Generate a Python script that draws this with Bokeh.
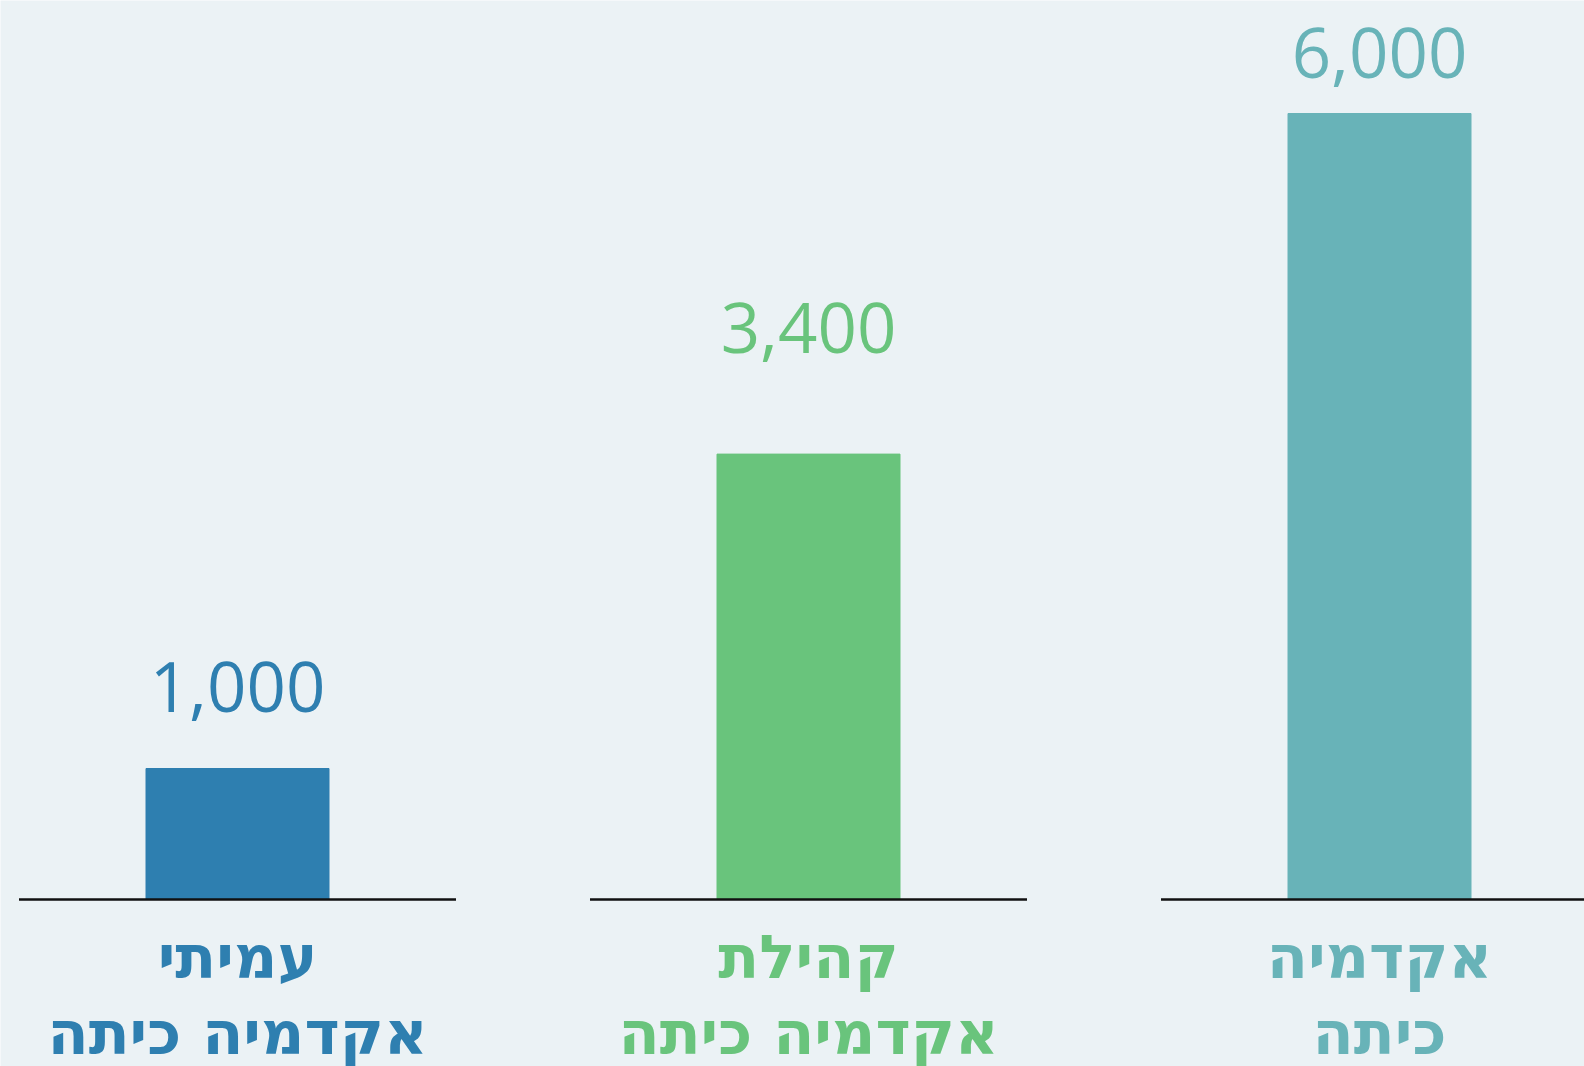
from bokeh.plotting import figure
from bokeh.models import ColumnDataSource, Range1d
from bokeh.core.properties import value
from bokeh.embed import file_html
from bokeh.resources import INLINE

# ---- data ----
categories = ["עמיתי\nאקדמיה כיתה", "קהילת\nאקדמיה כיתה", "אקדמיה\nכיתה"]
values = [1000, 3400, 6000]
value_labels = ["1,000", "3,400", "6,000"]
colors = ["#2E7FB0", "#69C47C", "#68B3B8"]

# ---- layout (pixels) ----
W, H = 1584, 1066
BG = "#EBF2F5"
baseline_px = 899          # distance of zero line from figure top
top_px = 113               # top of the tallest bar from figure top
unit = (baseline_px - top_px) / max(values)   # px per data unit
first_center_px, spacing_px = 237, 571
bar_w = 183 / spacing_px
seg_w = 437 / spacing_px
label_gap_px = [82, 126, 61]   # offset of value label anchor above bar top
cat_line1_px, cat_line2_px = 57, 133

xs = list(range(len(categories)))
p = figure(width=W, height=H, output_backend="svg", toolbar_location=None,
           x_range=Range1d(-first_center_px / spacing_px, (W - first_center_px) / spacing_px),
           y_range=Range1d(-(H - baseline_px) / unit, baseline_px / unit),
           min_border=0)
p.background_fill_color = BG
p.border_fill_color = BG
p.outline_line_color = None
p.axis.visible = False
p.grid.visible = False

src = ColumnDataSource(dict(
    x=xs, top=values, color=colors, lab=value_labels,
    lab_y=[v + g / unit for v, g in zip(values, label_gap_px)],
    line1=[c.split("\n")[0] for c in categories],
    line2=[c.split("\n")[1] for c in categories],
    x0=[x - seg_w / 2 for x in xs], x1=[x + seg_w / 2 for x in xs],
    zero=[0] * len(xs),
    l1y=[-cat_line1_px / unit] * len(xs),
    l2y=[-cat_line2_px / unit] * len(xs),
))

p.vbar(x="x", top="top", bottom=0, width=bar_w, color="color", source=src)
p.segment(x0="x0", y0="zero", x1="x1", y1="zero", line_color="#111111",
          line_width=2.5, source=src)

p.text(x="x", y="lab_y", text="lab", text_color="color",
       text_font=value("Open Sans"), text_font_size="69px",
       text_align="center", text_baseline="alphabetic", source=src)

for col, ycol in (("line1", "l1y"), ("line2", "l2y")):
    p.text(x="x", y=ycol, text=col, text_color="color",
           text_font=value("DejaVu Sans"), text_font_size="60px",
           text_font_style="bold", text_align="center",
           text_baseline="alphabetic", source=src)

open("out.html", "w").write(file_html(p, INLINE))
